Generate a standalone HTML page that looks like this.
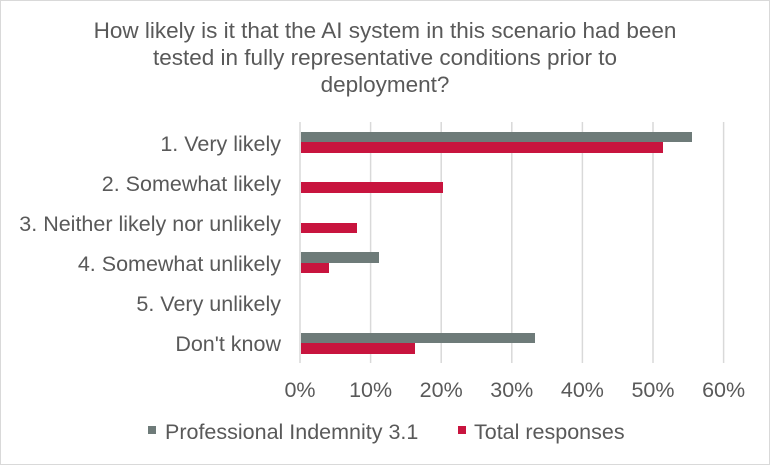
<!DOCTYPE html>
<html><head><meta charset="utf-8"><style>
body{margin:0;background:#fff}
svg{display:block}
text{font-family:"Liberation Sans",sans-serif;fill:#595959}
</style></head><body>
<svg width="770" height="465" viewBox="0 0 770 465" xmlns="http://www.w3.org/2000/svg">
<rect x="0.5" y="0.5" width="769" height="464" fill="#fff" stroke="#d9d9d9"/>
<g font-size="22.5" text-anchor="middle">
<text x="385" y="38">How likely is it that the AI system in this scenario had been</text>
<text x="385" y="65">tested in fully representative conditions prior to</text>
<text x="385" y="92">deployment?</text>
</g>
<g stroke="#d9d9d9" stroke-width="1.5">
<line x1="300" y1="122" x2="300" y2="363"/>
<line x1="370.6" y1="122" x2="370.6" y2="363"/>
<line x1="441.2" y1="122" x2="441.2" y2="363"/>
<line x1="511.8" y1="122" x2="511.8" y2="363"/>
<line x1="582.4" y1="122" x2="582.4" y2="363"/>
<line x1="653" y1="122" x2="653" y2="363"/>
<line x1="723.6" y1="122" x2="723.6" y2="363"/>
</g>
<g fill="#6e7b79">
<rect x="301" y="132" width="391" height="10"/>
<rect x="301" y="252" width="78" height="11"/>
<rect x="301" y="333" width="234" height="10"/>
</g>
<g fill="#c8143e">
<rect x="301" y="142" width="362" height="11"/>
<rect x="301" y="182" width="142" height="11"/>
<rect x="301" y="223" width="56" height="10"/>
<rect x="301" y="263" width="28" height="10"/>
<rect x="301" y="343" width="114" height="11"/>
</g>
<g font-size="21.5" text-anchor="end">
<text x="281" y="151">1. Very likely</text>
<text x="281" y="191">2. Somewhat likely</text>
<text x="281" y="231">3. Neither likely nor unlikely</text>
<text x="281" y="271">4. Somewhat unlikely</text>
<text x="281" y="311">5. Very unlikely</text>
<text x="281" y="351">Don't know</text>
</g>
<g font-size="21.5" text-anchor="middle">
<text x="300" y="397">0%</text>
<text x="370.6" y="397">10%</text>
<text x="441.2" y="397">20%</text>
<text x="511.8" y="397">30%</text>
<text x="582.4" y="397">40%</text>
<text x="653" y="397">50%</text>
<text x="723.6" y="397">60%</text>
</g>
<rect x="148" y="426" width="8" height="8" fill="#6e7b79"/>
<text x="165" y="439" font-size="21.5">Professional Indemnity 3.1</text>
<rect x="458" y="426" width="8" height="8" fill="#c8143e"/>
<text x="474" y="439" font-size="21.5">Total responses</text>
</svg>
</body></html>
